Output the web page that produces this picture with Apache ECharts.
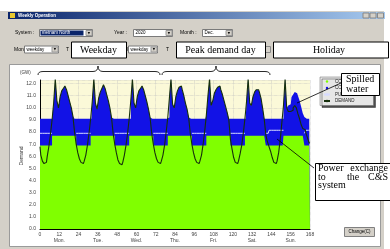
<!DOCTYPE html>
<html>
<head>
<meta charset="utf-8">
<title>Weekly Operation</title>
<script src="https://cdn.jsdelivr.net/npm/echarts@6/dist/echarts.min.js"></script>
<style>
  html, body { margin: 0; padding: 0; background: #fff; }
  #chart { width: 390px; height: 249px; }
</style>
</head>
<body>
<div id="chart"></div>
<script>
// hourly values from Monday 0:00 to Sunday 24:00, in GW
var dayNames = ['Mon.', 'Tue.', 'Wed.', 'Thu.', 'Fri.', 'Sat.', 'Sun.'];

var demand = [
  6.8, 6.1, 5.6, 5.4, 5.5, 6.0, 6.8, 7.8, 9.0, 10.4, 12.4, 10.6, 10.0, 10.9, 11.4, 11.6, 11.8, 11.5, 11.0, 10.5, 10.0, 9.3, 8.0, 7.0,
  6.3, 5.8, 5.5, 5.4, 5.6, 6.1, 6.9, 7.9, 9.1, 10.5, 12.4, 10.4, 9.9, 10.8, 11.3, 11.6, 11.9, 11.6, 11.1, 10.6, 10.0, 9.2, 7.9, 7.0,
  6.3, 5.7, 5.4, 5.3, 5.5, 6.1, 6.9, 7.9, 9.1, 10.6, 12.4, 10.4, 10.0, 10.9, 11.4, 11.6, 11.8, 11.5, 11.0, 10.5, 9.9, 9.2, 7.9, 7.0,
  6.3, 5.8, 5.5, 5.4, 5.6, 6.1, 6.9, 8.0, 9.2, 10.8, 12.4, 10.3, 10.0, 10.9, 11.4, 11.7, 11.8, 11.5, 11.0, 10.4, 9.9, 9.2, 7.9, 7.0,
  6.3, 5.8, 5.5, 5.4, 5.6, 6.1, 7.0, 8.1, 9.4, 11.0, 12.4, 10.2, 10.6, 11.2, 11.5, 11.7, 11.8, 11.5, 11.1, 10.6, 10.1, 9.6, 9.0, 7.4,
  6.6, 5.9, 5.5, 5.4, 5.6, 6.2, 6.9, 7.9, 9.1, 10.5, 12.4, 10.4, 10.2, 10.9, 11.3, 11.5, 11.5, 11.3, 10.8, 10.0, 9.1, 7.8, 7.2, 6.8,
  6.4, 5.9, 5.5, 5.4, 5.6, 6.3, 7.4, 8.8, 10.2, 12.4, 10.0, 9.7, 9.7, 9.8, 10.0, 10.2, 10.0, 9.5, 9.1, 8.6, 8.3, 8.2, 7.9, 7.5, 7.1
];

var coal = [
  6.9, 6.9, 6.9, 6.9, 6.9, 6.9, 6.9, 6.9, 7.7, 7.7, 7.7, 7.7, 7.7, 7.7, 7.7, 7.7, 7.7, 7.7, 7.7, 7.7, 7.7, 7.7, 7.7, 6.9,
  6.9, 6.9, 6.9, 6.9, 6.9, 6.9, 6.9, 6.9, 7.7, 7.7, 7.7, 7.7, 7.7, 7.7, 7.7, 7.7, 7.7, 7.7, 7.7, 7.7, 7.7, 7.7, 7.7, 6.9,
  6.9, 6.9, 6.9, 6.9, 6.9, 6.9, 6.9, 6.9, 7.7, 7.7, 7.7, 7.7, 7.7, 7.7, 7.7, 7.7, 7.7, 7.7, 7.7, 7.7, 7.7, 7.7, 7.7, 6.9,
  6.9, 6.9, 6.9, 6.9, 6.9, 6.9, 6.9, 6.9, 7.7, 7.7, 7.7, 7.7, 7.7, 7.7, 7.7, 7.7, 7.7, 7.7, 7.7, 7.7, 7.7, 7.7, 7.7, 6.9,
  6.9, 6.9, 6.9, 6.9, 6.9, 6.9, 6.9, 6.9, 7.7, 7.7, 7.7, 7.7, 7.7, 7.7, 7.7, 7.7, 7.7, 7.7, 7.7, 7.7, 7.7, 7.7, 7.7, 6.9,
  6.9, 6.9, 6.9, 6.9, 6.9, 6.9, 6.9, 6.9, 7.7, 7.7, 7.7, 7.7, 7.7, 7.7, 7.7, 7.7, 7.7, 7.7, 7.7, 7.7, 7.7, 6.9, 6.9, 6.9,
  6.9, 6.9, 6.9, 6.9, 6.9, 6.9, 6.9, 6.9, 7.7, 7.7, 7.7, 7.7, 7.7, 7.7, 7.7, 7.7, 7.7, 7.7, 7.7, 7.7, 7.7, 6.9, 6.9, 6.9, 6.9
];

// power exchange to the C&S system (night hours only)
var exchange = [
  7.9, 7.9, 7.9, 7.9, 7.9, 7.9, 7.9, 7.9, null, null, null, null, null, null, null, null, null, null, null, null, null, null, null, 7.9,
  7.9, 7.9, 7.9, 7.9, 7.9, 7.9, 7.9, 7.9, null, null, null, null, null, null, null, null, null, null, null, null, null, null, null, 7.9,
  7.9, 7.9, 7.9, 7.9, 7.9, 7.9, 7.9, 7.9, null, null, null, null, null, null, null, null, null, null, null, null, null, null, null, 7.9,
  7.9, 7.9, 7.9, 7.9, 7.9, 7.9, 7.9, 7.9, null, null, null, null, null, null, null, null, null, null, null, null, null, null, null, 7.9,
  7.9, 7.9, 7.9, 7.9, 7.9, 7.9, 7.9, 7.9, null, null, null, null, null, null, null, null, null, null, null, null, null, null, null, 7.9,
  7.9, 7.9, 7.9, 7.9, 7.9, 7.9, 7.9, 7.9, null, null, null, null, null, null, null, null, null, null, null, null, null, 7.9, 7.9, 8.15,
  8.15, 8.15, 8.15, 8.15, 8.15, 8.15, 8.15, 8.15, null, null, null, null, null, null, null, null, null, null, null, null, null, 7.9, 8.15, 8.15, 8.15
];

// spilled water on Sunday, on top of the hydro output
var spillSun = [0, 0, 0, 0, 0, 0, 0, 0, 0, 0, 0, 0.5, 0.6, 1.1, 1.1, 1.1, 1.2, 1.5, 1.5, 1.0, 0.45, 0.15, 0, 0, 0];
var hydroFloor = 9.1;

var hours = demand.map(function (v, i) { return i; });
var spill = new Array(144).fill(0).concat(spillSun);
// top of the blue (hydro) band: follows demand above the floor, plus spilled water
var hydroTop = demand.map(function (d, i) { return +(Math.max(hydroFloor, d) + spill[i]).toFixed(2); });

function pairs(arr) {
  return arr.map(function (v, i) { return [hours[i], v]; });
}

var green = '#80ff00';
var blue = '#1212e6';
var ui = '5px "Liberation Sans"';
var serif = '10px "Liberation Serif"';

function txt(x, y, t, font, fill, align) {
  return { type: 'text', x: x, y: y, z: -1,
    style: { text: t, font: font || ui, fill: fill || '#000', textAlign: align || 'left', textVerticalAlign: 'middle' } };
}
function rect(x, y, w, h, fill, stroke, z) {
  return { type: 'rect', z: z == null ? -1 : z, shape: { x: x, y: y, width: w, height: h },
    style: { fill: fill, stroke: stroke || null, lineWidth: stroke ? 1 : 0 } };
}
function select(x, y, w, t, hi) {
  var els = [rect(x + 0.5, y + 0.5, w, 7, '#fff', '#7a7a7a')];
  if (hi) els.push(rect(x + 1.5, y + 1.5, w - 10, 5, '#0a246a'));
  els.push(txt(x + 2.5, y + 4, t, '4.5px "Liberation Sans"', hi ? '#fff' : '#000'));
  els.push(rect(x + w - 6, y + 1.5, 6, 5, '#d4d0c8', '#9a9a9a'));
  els.push(txt(x + w - 3, y + 4.2, '\u25BC', '3px "DejaVu Sans"', '#000', 'center'));
  return els;
}
function note(x, y, w, h) {
  return rect(x + 0.5, y + 0.5, w, h, '#fff', '#000', 100);
}
function noteText(x, y, t, align) {
  var e = txt(x, y, t, serif, '#000', align);
  e.z = 101;
  return e;
}
function line(x1, y1, x2, y2) {
  return { type: 'line', z: 99, shape: { x1: x1, y1: y1, x2: x2, y2: y2 }, style: { stroke: '#000', lineWidth: 0.8 } };
}
function curve(x1, y1, cx, cy, x2, y2) {
  return { type: 'bezierCurve', z: 5, shape: { x1: x1, y1: y1, x2: x2, y2: y2, cpx1: cx, cpy1: cy },
    style: { fill: null, stroke: '#111', lineWidth: 0.9 } };
}
function brace(x1, tip, x2, yBase, yLine, yTip) {
  var s = { stroke: '#111', lineWidth: 0.9 };
  return [
    curve(x1, yBase, x1, yLine, x1 + 5, yLine),
    { type: 'line', z: 5, shape: { x1: x1 + 5, y1: yLine, x2: tip - 5, y2: yLine }, style: s },
    curve(tip - 5, yLine, tip, yLine, tip, yTip),
    curve(tip, yTip, tip, yLine, tip + 5, yLine),
    { type: 'line', z: 5, shape: { x1: tip + 5, y1: yLine, x2: x2 - 5, y2: yLine }, style: s },
    curve(x2 - 5, yLine, x2, yLine, x2, yBase)
  ];
}

var graphics = [
  rect(0, 11, 384, 238, '#d4d0c8'),
  { type: 'rect', z: -1, shape: { x: 8, y: 12, width: 377, height: 7 },
    style: { fill: new echarts.graphic.LinearGradient(0, 0, 1, 0, [{ offset: 0, color: '#0a246a' }, { offset: 1, color: '#a6caf0' }]) } },
  rect(10, 13, 5, 5, '#e8c830'),
  txt(18, 15.6, 'Weekly Operation', 'bold 4.5px "Liberation Sans"', '#fff'),
  rect(363, 13, 6, 5, '#d4d0c8', '#888'),
  rect(370, 13, 6, 5, '#d4d0c8', '#888'),
  rect(377.5, 13, 6, 5, '#d4d0c8', '#888'),
  txt(15, 33, 'System :'),
  txt(114, 33, 'Year :'),
  txt(180, 33, 'Month :'),
  txt(14, 49.5, 'Mon'),
  txt(66, 49.5, 'T'),
  txt(125, 49.5, 'd'),
  txt(166, 49.5, 'T'),
  rect(9.5, 64.5, 371, 182, '#ffffff', '#9a9a9a'),
  txt(20, 73, '(GW)', '4.5px "Liberation Sans"', '#333'),
  txt(22, 156, 'Demand', '5px "Liberation Sans"', '#333', 'center'),
  rect(344.5, 227.5, 30, 9, '#d4d0c8', '#808080'),
  txt(359.5, 232, 'Change(C)', '4.5px "Liberation Sans"', '#000', 'center'),
  note(71, 41.5, 55, 16), noteText(98.5, 50, 'Weekday', 'center'),
  note(176, 41.5, 89, 16), noteText(220.5, 50, 'Peak demand day', 'center'),
  rect(264.5, 46.5, 6, 6, '#d4d0c8', '#888'),
  note(273, 41.5, 115, 16), noteText(329, 50, 'Holiday', 'center'),
  line(341, 83, 297, 103),
  note(341, 73, 38, 22), noteText(346, 79.5, 'Spilled'), noteText(346, 89, 'water'),
  line(314, 168, 277, 139),
  note(315, 163, 80, 37),
  noteText(318, 168.5, 'Power'), noteText(388, 168.5, 'exchange', 'right'),
  noteText(318, 177, 'to'), noteText(353, 177, 'the', 'center'), noteText(388, 177, 'C&S', 'right'),
  noteText(318, 185.5, 'system')
];
// rotate the y axis title
graphics[16].rotation = Math.PI / 2;

graphics = graphics
  .concat(brace(38, 98, 160, 75, 71.5, 66))
  .concat(brace(162, 216, 270, 75, 71.5, 66))
  .concat(select(39, 29, 53, 'Vietnam North', true))
  .concat(select(133, 29, 39, '2020'))
  .concat(select(202, 29, 30, 'Dec.'))
  .concat(select(24, 45.5, 34, 'weekday'))
  .concat(select(128, 45.5, 29, 'weekday'));

var chart = echarts.init(document.getElementById('chart'));

var option = {
  backgroundColor: '#ffffff',
  animation: false,
  textStyle: { fontFamily: 'Liberation Sans' },
  graphic: { elements: graphics },
  legend: {
    left: 320, top: 77, orient: 'vertical',
    data: ['COAL', 'CONVENTIONAL', 'PURCHASE', 'DEMAND'],
    itemWidth: 6, itemHeight: 3, itemGap: 1.5,
    padding: [2, 3, 2, 3],
    backgroundColor: '#e6e6e6', borderColor: '#666', borderWidth: 0.5,
    shadowColor: 'rgba(0,0,0,0.7)', shadowOffsetX: 2, shadowOffsetY: 2, shadowBlur: 0,
    textStyle: { fontSize: 4.5, color: '#222' }
  },
  grid: {
    left: 40, top: 80, width: 270, height: 149,
    show: true, backgroundColor: '#fbf9d8', borderWidth: 0
  },
  xAxis: {
    type: 'value', min: 0, max: 168, interval: 12,
    axisLine: { lineStyle: { color: '#000', width: 1 } },
    axisTick: { show: false },
    splitLine: { show: true, lineStyle: { color: '#bdbdbd', type: 'dotted', width: 0.6 } },
    axisLabel: {
      fontSize: 5, color: '#444', margin: 3, lineHeight: 6,
      formatter: function (v) {
        return v % 24 === 12 ? v + '\n' + dayNames[(v - 12) / 24] : String(v);
      }
    }
  },
  yAxis: {
    type: 'value', min: 0, max: 12.3, interval: 1,
    axisLine: { show: true, lineStyle: { color: '#000', width: 1 } },
    axisTick: { show: false },
    splitLine: { lineStyle: { color: '#bdbdbd', type: 'dotted', width: 0.6 } },
    axisLabel: {
      fontSize: 5, color: '#444', margin: 4, showMaxLabel: false,
      formatter: function (v) { return v.toFixed(1); }
    }
  },
  series: [
    { name: 'CONVENTIONAL', type: 'line', step: 'middle', symbol: 'none',
      color: blue, lineStyle: { width: 0 }, areaStyle: { color: blue, opacity: 1 },
      data: pairs(hydroTop) },
    { name: 'COAL', type: 'line', step: 'middle', symbol: 'none',
      color: green, lineStyle: { width: 0 }, areaStyle: { color: green, opacity: 1 },
      data: pairs(coal) },
    { name: 'PURCHASE', type: 'line', step: 'middle', symbol: 'none',
      color: '#d6dbff', lineStyle: { width: 1, color: '#d6dbff' },
      data: pairs(exchange) },
    { name: 'DEMAND', type: 'line', step: 'middle', symbol: 'none',
      color: '#16300c', lineStyle: { width: 1.1, color: '#16300c' },
      data: pairs(demand) }
  ]
};

chart.setOption(option);
</script>
</body>
</html>
